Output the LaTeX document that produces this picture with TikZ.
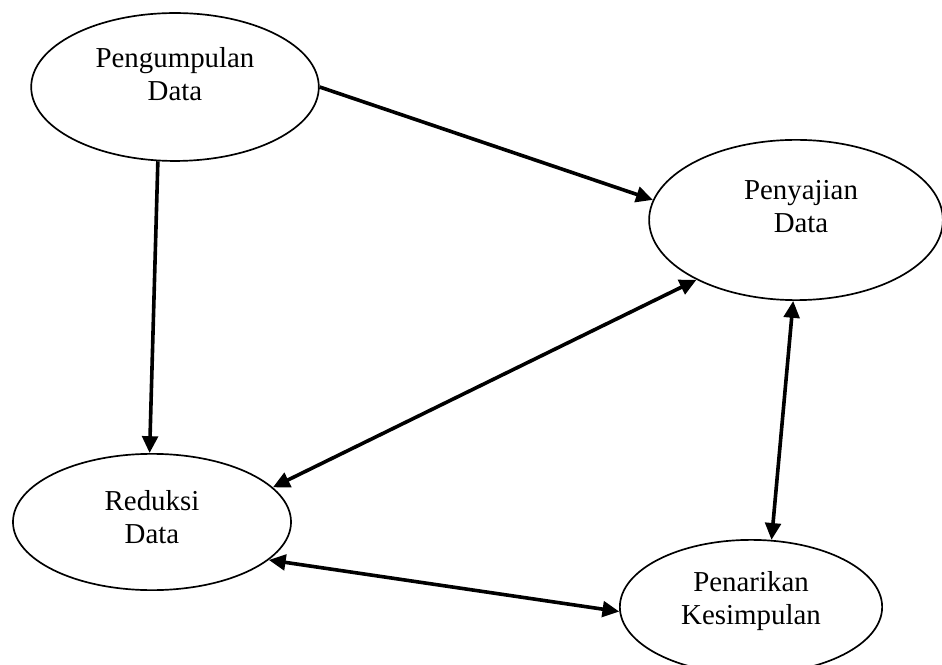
\documentclass[tikz,border=0pt]{standalone}
\usepackage{fontspec}
\setmainfont{Liberation Serif}
\usetikzlibrary{shapes.geometric, arrows.meta, positioning}

\begin{document}
\begin{tikzpicture}[
    x=0.0146cm, y=-0.0146cm,
    stage/.style={ellipse, draw, line width=0.7pt, inner sep=0pt},
    stagetext/.style={align=center, inner sep=0pt, font=\fontsize{12}{13.65}\selectfont},
    arrow/.style={-{Triangle[length=7pt,width=6.5pt]}, line width=1.5pt},
    twoway/.style={{Triangle[length=7pt,width=6.5pt]}-{Triangle[length=7pt,width=6.5pt]}, line width=1.5pt}
]
\useasboundingbox (0,0) rectangle (942,665);

% Stages
\node[stage, minimum width=4.20cm, minimum height=2.16cm] (pengumpulan) at (175,87) {};
\node[stage, minimum width=4.29cm, minimum height=2.34cm] (penyajian) at (796,220) {};
\node[stage, minimum width=4.06cm, minimum height=1.99cm] (reduksi) at (152,522) {};
\node[stage, minimum width=3.83cm, minimum height=1.96cm] (penarikan) at (751,607) {};

% Texts
\node[stagetext] (pengumpulantext) at (175,74) {Pengumpulan\\Data};
\node[stagetext] (penyajiantext) at (801,207) {Penyajian\\Data};
\node[stagetext] (reduksitext) at (152,517) {Reduksi\\Data};
\node[stagetext] (penarikantext) at (751,601) {Penarikan\\Kesimpulan};

% Arrows
\draw[arrow] (pengumpulan.east) -- (penyajian.172);
\draw[arrow] (pengumpulan.-103) -- (reduksi.92);
\draw[twoway] (reduksi.16) -- (penyajian.211);
\draw[twoway] (penyajian.268) -- (penarikan.73);
\draw[twoway] (reduksi.-18) -- (penarikan.182);

\end{tikzpicture}
\end{document}
